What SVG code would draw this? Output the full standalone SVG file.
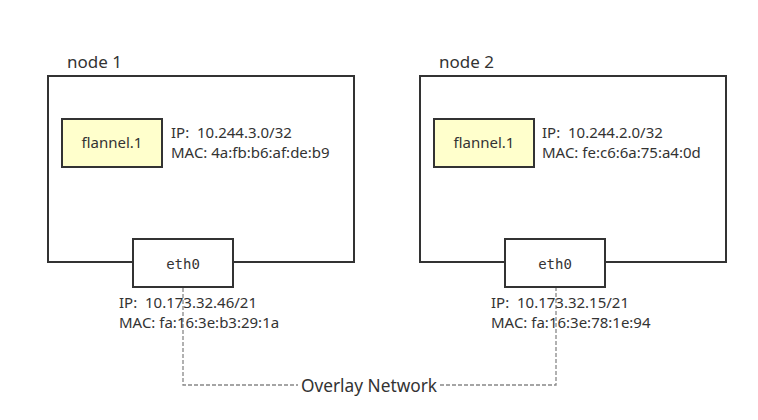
<svg xmlns="http://www.w3.org/2000/svg" width="758" height="420" viewBox="0 0 758 420" xml:space="preserve">
<style>
.box{fill:#fff;stroke:#333;stroke-width:2}
.fl{fill:#ffffcc;stroke:#333;stroke-width:2}
.t{font-family:"Noto Sans","Open Sans",sans-serif;font-size:15px;fill:#333;white-space:pre}
.h{font-family:"Noto Sans","Open Sans",sans-serif;font-size:17px;fill:#333}
.o{font-family:"Noto Sans","Open Sans",sans-serif;font-size:17.3px;fill:#333}
.m{font-family:"DejaVu Sans Mono","Liberation Mono",monospace;font-size:14px;fill:#333}
.c{fill:none;stroke:#888;stroke-width:1.3;stroke-dasharray:4 2}
</style>
<rect width="758" height="420" fill="#fff"/>
<g id="connectors">
<polyline class="c" points="183,288 183,385 298,385"/>
<polyline class="c" points="440,385 556,385 556,288"/>
<text class="o" x="369" y="392" text-anchor="middle">Overlay Network</text>
</g>
<g id="node1">
<text class="h" x="67" y="68">node 1</text>
<rect class="box" x="48" y="76" width="306" height="186"/>
</g>
<g id="flannel1-node1">
<rect class="fl" x="62" y="119" width="100" height="48"/>
<text class="t" x="112" y="148" text-anchor="middle">flannel.1</text>
<text class="t" x="171" y="138">IP:  10.244.3.0/32</text>
<text class="t" x="171" y="158">MAC: 4a:fb:b6:af:de:b9</text>
</g>
<g id="eth0-node1">
<rect class="box" x="133" y="239" width="100" height="48"/>
<text class="m" x="183" y="269" text-anchor="middle">eth0</text>
<text class="t" x="119" y="308">IP:  10.173.32.46/21</text>
<text class="t" x="119" y="328">MAC: fa:16:3e:b3:29:1a</text>
</g>
<g id="node2">
<text class="h" x="439" y="68">node 2</text>
<rect class="box" x="420" y="76" width="306" height="186"/>
</g>
<g id="flannel1-node2">
<rect class="fl" x="434" y="119" width="100" height="48"/>
<text class="t" x="484" y="148" text-anchor="middle">flannel.1</text>
<text class="t" x="542" y="138">IP:  10.244.2.0/32</text>
<text class="t" x="542" y="158">MAC: fe:c6:6a:75:a4:0d</text>
</g>
<g id="eth0-node2">
<rect class="box" x="505" y="239" width="100" height="48"/>
<text class="m" x="555" y="269" text-anchor="middle">eth0</text>
<text class="t" x="491" y="308">IP:  10.173.32.15/21</text>
<text class="t" x="491" y="328">MAC: fa:16:3e:78:1e:94</text>
</g>
</svg>
